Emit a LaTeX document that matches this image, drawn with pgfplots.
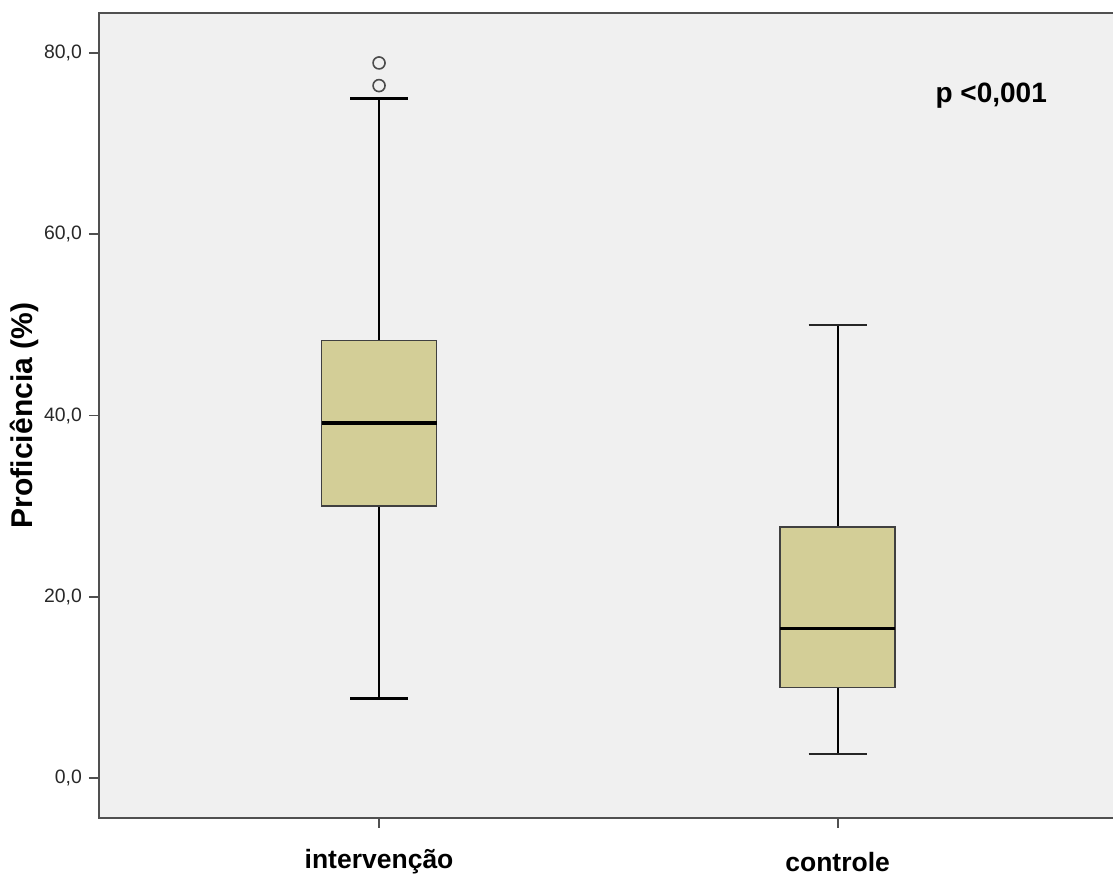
\documentclass[border=0pt]{standalone}
\usepackage{pgfplots}
\pgfplotsset{compat=1.18}
\usepackage{fontspec}
\setmainfont{Liberation Sans}
\definecolor{boxfill}{RGB}{211,206,151}
\definecolor{bgc}{RGB}{240,240,240}
\definecolor{framec}{RGB}{80,80,80}
\definecolor{tickc}{RGB}{40,40,40}
\begin{document}
\begin{tikzpicture}
\useasboundingbox (-49.5pt,-29.5pt) rectangle (507pt,409pt);
\clip (-49.5pt,-29.5pt) rectangle (507pt,409pt);
\begin{axis}[
  at={(0pt,0pt)}, anchor=south west,
  scale only axis, width=508.5pt, height=402.5pt,
  xmin=-0.6107, xmax=1.607, ymin=-4.41, ymax=84.41,
  axis background/.style={fill=bgc},
  axis line style={framec, line width=0.9pt},
  tick style={framec, line width=0.9pt},
  tick align=outside, tick pos=left, major tick length=5pt,
  xtick={0,1}, xticklabels={intervenção,{\raisebox{-2pt}{controle}}},
  xticklabel style={anchor=base, font=\fontsize{13.25}{15}\selectfont\bfseries, text=black, yshift=-20pt},
  ytick={0,20,40,60,80},
  yticklabel={\pgfmathprintnumber[fixed,fixed zerofill,precision=1,use comma,assume math mode=true]{\tick}},
  yticklabel style={font=\fontsize{9.7}{11}\selectfont, text=tickc},
  ylabel={Proficiência (\%)},
  ylabel style={at={(axis description cs:-0.0733,0.5)}, anchor=center, font=\fontsize{15}{17}\selectfont\bfseries},
  clip=false,
]
% intervenção
\addplot[black, line width=1.3pt] coordinates {(0,48.3) (0,75.0)};
\addplot[black, line width=1.3pt] coordinates {(-0.06325,75.0) (0.06325,75.0)};
\addplot[black, line width=1.3pt] coordinates {(0,30.0) (0,8.75)};
\addplot[black, line width=1.3pt] coordinates {(-0.06325,8.75) (0.06325,8.75)};
\addplot[draw=black!75, line width=0.75pt, fill=boxfill] coordinates {(-0.1255,30.0) (0.1255,30.0) (0.1255,48.3) (-0.1255,48.3)} -- cycle;
\addplot[black, line width=1.75pt] coordinates {(-0.1255,39.15) (0.1255,39.15)};
\addplot[only marks, mark=o, mark size=3pt, mark options={draw=black!70, line width=0.8pt}] coordinates {(0,76.4) (0,78.9)};
% controle
\addplot[black, line width=1.1pt] coordinates {(1,27.7) (1,50.0)};
\addplot[black!85, line width=1.1pt] coordinates {(0.93675,50.0) (1.06325,50.0)};
\addplot[black, line width=1.1pt] coordinates {(1,9.97) (1,2.65)};
\addplot[black!85, line width=1.1pt] coordinates {(0.93675,2.65) (1.06325,2.65)};
\addplot[draw=black!75, line width=0.75pt, fill=boxfill] coordinates {(0.8745,9.97) (1.1255,9.97) (1.1255,27.7) (0.8745,27.7)} -- cycle;
\addplot[black, line width=1.75pt] coordinates {(0.8745,16.5) (1.1255,16.5)};
\node[anchor=base west, inner sep=0pt, font=\fontsize{14}{16}\selectfont\bfseries] at (axis cs:1.2127,74.5) {p <0,001};
\end{axis}
\end{tikzpicture}
\end{document}
